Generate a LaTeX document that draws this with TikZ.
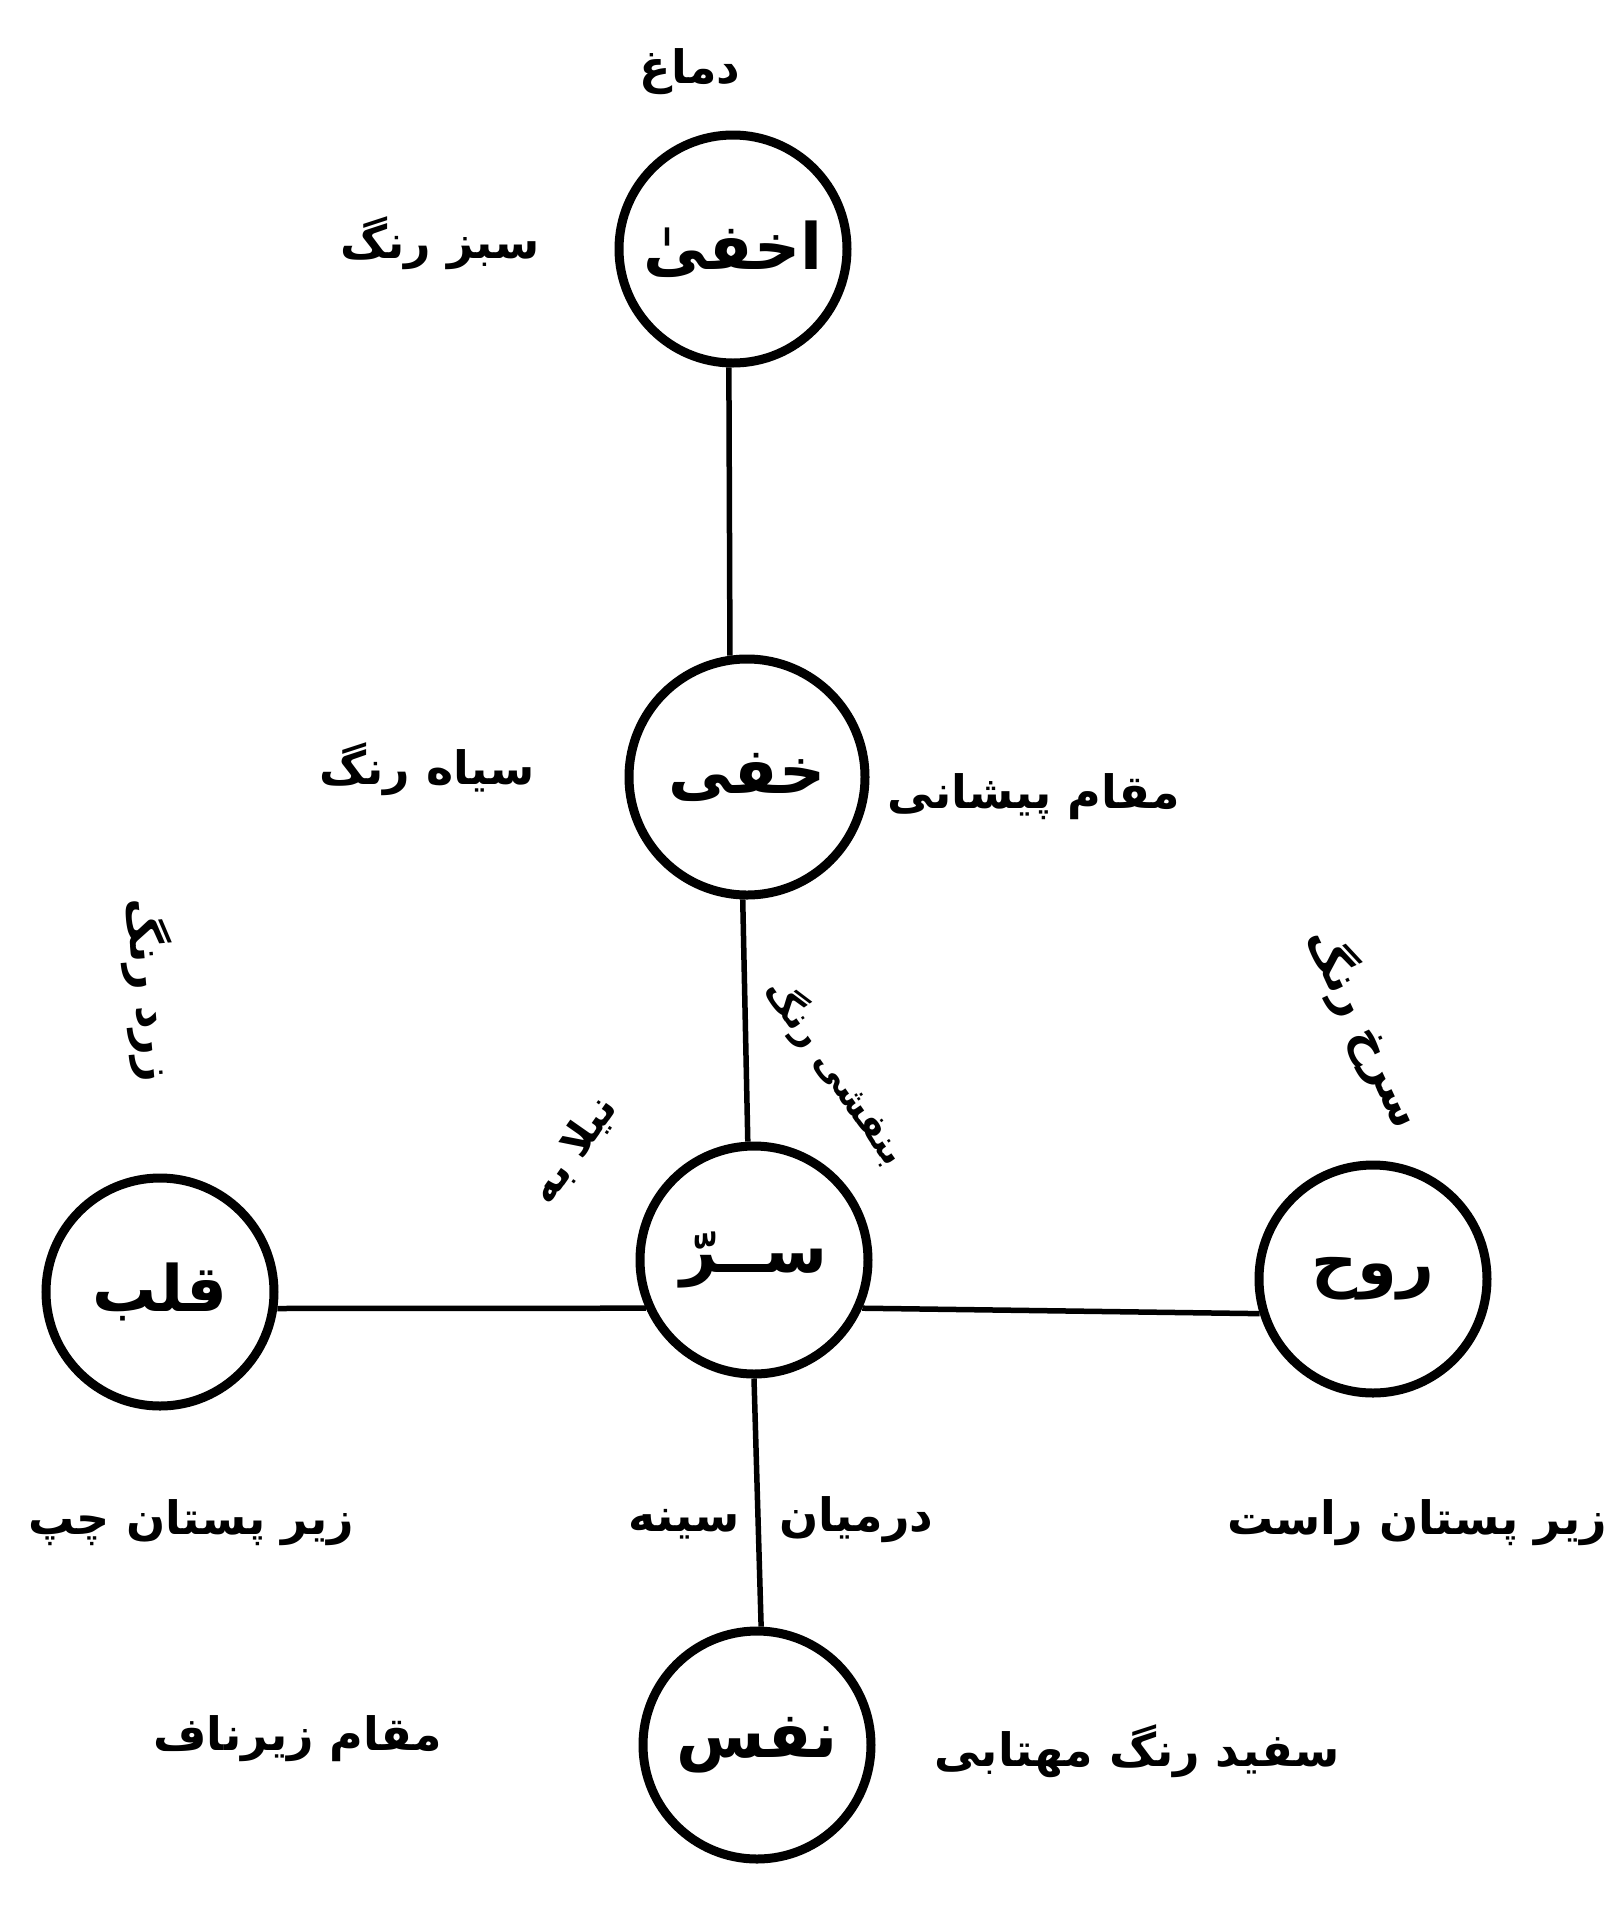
\documentclass[tikz,border=0pt]{standalone}
\usepackage{fontspec}
\usetikzlibrary{shapes.geometric}
\TeXXeTstate=1
\newfontfamily\ur[Script=Arabic]{DejaVu Sans}
\tikzset{
  lat/.style={draw, circle, line width=9pt, minimum size=228pt, inner sep=0pt,
              font=\ur\bfseries\fontsize{64}{68}\selectfont},
  conn/.style={line width=5.5pt},
  lbl/.style={font=\ur\bfseries\fontsize{46}{52}\selectfont, inner sep=0pt},
  small/.style={font=\ur\bfseries\fontsize{42}{46}\selectfont},
  smaller/.style={font=\ur\bfseries\fontsize{37}{42}\selectfont},
}
\begin{document}
\begin{tikzpicture}[x=1pt,y=-1pt]
\useasboundingbox (0,0) rectangle (1608,1907);
% lataif circles
\node[lat] (akhfa) at (733,249) {\beginR اخفیٰ\endR};
\node[lat, minimum size=236pt] (khafi) at (747,777) {\beginR خفی\endR};
\node[lat] (sirr) at (754,1260) {\beginR ســرّ\endR};
\node[lat] (qalb) at (160,1292) {\beginR قلب\endR};
\node[lat] (ruh) at (1373,1279) {\beginR روح\endR};
\node[lat] (nafs) at (757,1745) {\beginR نفس\endR};
% connectors
\draw[conn] (akhfa.268) -- (khafi.98);
\draw[conn] (khafi.268) -- (sirr.93);
\draw[conn] (qalb.352) -- (sirr.204);
\draw[conn] (sirr.336) -- (ruh.197);
\draw[conn] (sirr.270) -- (nafs.88);
% labels
\node[lbl] (dimagh) at (690,72) {\beginR دماغ\endR};
\node[lbl] (sabz) at (440,243) {\beginR سبز رنگ\endR};
\node[lbl] (siyah) at (427,769) {\beginR سیاه رنگ\endR};
\node[lbl] (peshani) at (1034,797) {\beginR مقام پیشانی\endR};
\node[lbl, rotate=-85] (zard) at (150,990) {\beginR زرد رنگ\endR};
\node[lbl, rotate=-65] (surkh) at (1365,1028) {\beginR سرخ رنگ\endR};
\node[lbl, small, rotate=55] (sl) at (574,1150) {\beginR نیلا به\endR};
\node[lbl, smaller, rotate=-55] (sr) at (836,1072) {\beginR بنفشی رنگ\endR};
\node[lbl] (chap) at (191,1523) {\beginR زیر پستان چپ\endR};
\node[lbl] (sina) at (781,1520) {\beginR درمیان\hspace{40pt}سینه\endR};
\node[lbl] (rast) at (1417,1523) {\beginR زیر پستان راست\endR};
\node[lbl] (naf) at (298,1739) {\beginR مقام زیرناف\endR};
\node[lbl] (safed) at (1137,1751) {\beginR سفید رنگ مهتابی\endR};
\end{tikzpicture}
\end{document}
